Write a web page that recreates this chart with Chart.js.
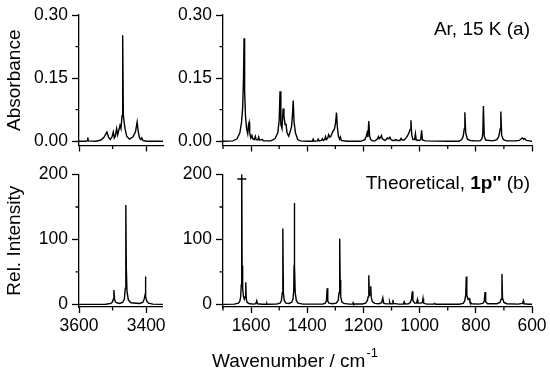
<!DOCTYPE html>
<html>
<head>
<meta charset="utf-8">
<script src="https://cdn.jsdelivr.net/npm/chart.js@4.4.1/dist/chart.umd.min.js"></script>
<style>
body { margin: 0; background: #fff; }
#wrap { position: relative; width: 550px; height: 376px; }
canvas { position: absolute; }
</style>
</head>
<body>
<div id="wrap">
  <canvas id="expHigh" width="170" height="160" style="left:0;top:0"></canvas>
  <canvas id="expLow" width="380" height="160" style="left:170px;top:0"></canvas>
  <canvas id="theoHigh" width="170" height="216" style="left:0;top:160px"></canvas>
  <canvas id="theoLow" width="380" height="216" style="left:170px;top:160px"></canvas>
</div>
<script>
// experimental, Ar matrix 15 K, 3600-3350 cm-1
const expHighWn = [3600, 3580, 3576, 3574, 3572, 3550, 3535, 3525, 3517, 3512,
  3507, 3502, 3498, 3495, 3492, 3488, 3485, 3482, 3478, 3475,
  3472, 3470, 3468, 3466, 3463, 3458, 3450, 3440, 3432, 3427,
  3424, 3420, 3416, 3413, 3410, 3400, 3350];
const expHighAbs = [0, 0, 0.001, 0.009, 0.001, 0, 0.003, 0.010, 0.022, 0.010,
  0.004, 0.010, 0.022, 0.008, 0.012, 0.030, 0.015, 0.025, 0.038, 0.030,
  0.060, 0.252, 0.060, 0.048, 0.030, 0.012, 0.005, 0.010, 0.022, 0.046,
  0.025, 0.008, 0.004, 0.008, 0.002, 0, 0];

// experimental, 1700-600 cm-1
const expLowWn = [1700, 1665, 1650, 1640, 1634, 1630, 1627, 1625, 1623, 1620,
  1616, 1612, 1609, 1607, 1605, 1601, 1597, 1594, 1589, 1585,
  1582, 1576, 1573, 1570, 1560, 1556, 1530, 1515, 1505, 1500,
  1497, 1494, 1490, 1486, 1483, 1479, 1476, 1472, 1466, 1460,
  1456, 1453, 1450, 1447, 1442, 1438, 1434, 1425, 1400, 1382,
  1379, 1376, 1364, 1361, 1358, 1350, 1346, 1343, 1338, 1335,
  1332, 1327, 1324, 1320, 1316, 1310, 1303, 1299, 1296, 1293,
  1289, 1285, 1282, 1279, 1260, 1210, 1195, 1190, 1187, 1184,
  1181, 1178, 1174, 1168, 1158, 1150, 1147, 1144, 1140, 1136,
  1133, 1128, 1124, 1120, 1114, 1110, 1106, 1102, 1096, 1090,
  1085, 1080, 1070, 1066, 1062, 1055, 1048, 1044, 1038, 1034,
  1031, 1028, 1024, 1018, 1015, 1012, 1000, 996, 993, 990,
  980, 900, 860, 850, 845, 841, 839, 836, 830, 820,
  800, 785, 778, 775, 773, 770, 765, 740, 725, 718,
  713, 711, 708, 702, 690, 660, 645, 638, 634, 630,
  626, 620, 610, 600];
const expLowAbs = [0, 0.001, 0.006, 0.020, 0.045, 0.080, 0.150, 0.245, 0.120, 0.060,
  0.030, 0.018, 0.040, 0.045, 0.020, 0.008, 0.014, 0.006, 0.004, 0.012,
  0.004, 0.003, 0.010, 0.003, 0.004, 0.001, 0.001, 0.006, 0.020, 0.050,
  0.119, 0.040, 0.030, 0.078, 0.060, 0.040, 0.042, 0.020, 0.012, 0.025,
  0.035, 0.060, 0.097, 0.045, 0.020, 0.012, 0.004, 0.001, 0, 0,
  0.005, 0, 0.001, 0.005, 0.001, 0.002, 0.006, 0.002, 0.004, 0.011,
  0.004, 0.008, 0.016, 0.010, 0.012, 0.022, 0.030, 0.045, 0.068, 0.035,
  0.012, 0.005, 0.010, 0.002, 0, 0, 0.004, 0.012, 0.020, 0.010,
  0.048, 0.012, 0.004, 0.001, 0.001, 0.006, 0.011, 0.006, 0.009, 0.014,
  0.006, 0.004, 0.002, 0.004, 0.008, 0.006, 0.010, 0.004, 0.002, 0.002,
  0.004, 0.002, 0.002, 0.007, 0.003, 0.003, 0.008, 0.012, 0.020, 0.028,
  0.050, 0.015, 0.004, 0.004, 0.018, 0.003, 0.002, 0.005, 0.026, 0.003,
  0.001, 0, 0, 0.004, 0.012, 0.030, 0.069, 0.020, 0.005, 0.002,
  0.001, 0.001, 0.006, 0.020, 0.084, 0.012, 0.003, 0.001, 0.004, 0.012,
  0.030, 0.071, 0.014, 0.004, 0.001, 0.001, 0.002, 0.006, 0.008, 0.005,
  0.007, 0.002, 0.001, 0];

// theoretical 1p'', 3600-3350 cm-1
const theoHighWn = [3600, 3520, 3505, 3500, 3498, 3496, 3494, 3490, 3480, 3470,
  3465, 3462, 3461, 3460, 3459, 3457, 3453, 3445, 3420, 3410,
  3406, 3403, 3402, 3401, 3398, 3393, 3380, 3350];
const theoHighInt = [0, 0.3, 1.5, 4, 8, 22, 7, 3, 1.5, 3,
  8, 25, 60, 153, 55, 20, 7, 2.5, 1.5, 3,
  8, 15, 43, 12, 5, 2, 0.5, 0];

// theoretical 1p'', 1700-600 cm-1
const theoLowWn = [1700, 1660, 1645, 1640, 1637, 1635, 1634, 1633, 1632, 1630,
  1627, 1624, 1621, 1619, 1617, 1614, 1605, 1590, 1583, 1580,
  1577, 1560, 1545, 1544, 1543, 1510, 1497, 1492, 1489, 1487,
  1485, 1482, 1476, 1466, 1456, 1451, 1448, 1447, 1446, 1445,
  1443, 1439, 1433, 1415, 1345, 1336, 1332, 1329, 1327, 1323,
  1310, 1297, 1290, 1287, 1285, 1284, 1283, 1281, 1277, 1270,
  1250, 1239, 1237, 1235, 1205, 1192, 1186, 1183, 1181, 1179,
  1176, 1174, 1172, 1168, 1160, 1145, 1135, 1131, 1128, 1120,
  1109, 1107, 1105, 1097, 1095, 1093, 1075, 1058, 1055, 1052,
  1040, 1033, 1029, 1026, 1024, 1018, 1011, 1008, 1006, 996,
  990, 988, 986, 975, 950, 946, 943, 860, 845, 840,
  836, 834, 832, 828, 824, 821, 815, 790, 775, 770,
  767, 765, 758, 725, 714, 710, 707, 705, 700, 690,
  650, 634, 631, 629, 610, 600];
const theoLowInt = [0, 0.5, 2, 5, 12, 30, 60, 240, 60, 25,
  12, 8, 12, 34, 8, 3, 1, 0.5, 1, 5.5,
  1, 0.2, 0.2, 1.2, 0.2, 0.5, 2, 6, 18, 117,
  18, 6, 2, 1.5, 3, 8, 22, 60, 156, 60,
  18, 6, 2, 0.5, 0.5, 2, 5, 25, 5, 2,
  1, 2, 6, 18, 40, 101, 38, 12, 4, 1.5,
  0.5, 0.6, 2.5, 0.6, 0.6, 2, 6, 12, 45, 14,
  15, 28, 10, 4, 1.5, 1, 2.5, 10, 2, 0.8,
  1, 4, 1, 1, 7, 1.5, 0.5, 0.6, 4, 0.6,
  1, 3, 8, 20, 6, 2, 2, 7.5, 2, 2,
  3, 9, 2, 0.5, 0.4, 1.5, 0.3, 0.3, 1.5, 5,
  14, 43, 14, 8, 9, 4, 1, 0.5, 1.5, 5,
  19, 4, 1, 1, 3, 8, 47, 10, 3, 1,
  0.4, 1.5, 5.6, 1, 0.3, 0.3];

// off-scale mark on the 1633 band
const breakMarkWn = [1633];
const breakMarkInt = [193];

const highMajor = [3600, 3400];
const highMinor = [3500];
const lowMajor = [1600, 1400, 1200, 1000, 800, 600];
const lowMinor = [1700, 1500, 1300, 1100, 900, 700];
const absMajor = [0, 0.15, 0.30];
const absLabels = ['0.00', '0.15', '0.30'];
const absMinor = [0.075, 0.225];
const intMajor = [0, 100, 200];
const intLabels = ['0', '100', '200'];
const intMinor = [50, 150];

const FONT = "'Liberation Sans', Arial, sans-serif";
Chart.defaults.font.family = FONT;
Chart.defaults.font.size = 17.5;
Chart.defaults.color = '#000';

function spectrum(wn, vals) {
    return {
        data: wn.map((x, i) => ({x: x, y: vals[i]})),
        borderColor: '#000',
        borderWidth: 1.4,
        pointRadius: 0,
        tension: 0,
        fill: false
    };
}

function minorTicks(xMinor, yMinor) {
    return {
        id: 'minorTicks',
        afterDraw(chart) {
            const ctx = chart.ctx, xs = chart.scales.x, ys = chart.scales.y;
            ctx.save();
            ctx.strokeStyle = '#000';
            ctx.lineWidth = 1.3;
            ctx.beginPath();
            xMinor.forEach(v => {
                const p = xs.getPixelForValue(v);
                ctx.moveTo(p, xs.top);
                ctx.lineTo(p, xs.top + 3.5);
            });
            yMinor.forEach(v => {
                const p = ys.getPixelForValue(v);
                ctx.moveTo(ys.right, p);
                ctx.lineTo(ys.right - 3.5, p);
            });
            ctx.stroke();
            ctx.restore();
        }
    };
}

// right aligned text made of normal / bold pieces
function cornerText(parts, rightX, baseY) {
    return {
        id: 'cornerText',
        afterDraw(chart) {
            const ctx = chart.ctx;
            ctx.save();
            ctx.fillStyle = '#000';
            ctx.textBaseline = 'alphabetic';
            let w = 0;
            parts.forEach(p => { ctx.font = (p.bold ? 'bold ' : '') + '19px ' + FONT; w += ctx.measureText(p.text).width; });
            let x = rightX - w;
            parts.forEach(p => {
                ctx.font = (p.bold ? 'bold ' : '') + '19px ' + FONT;
                ctx.fillText(p.text, x, baseY);
                x += ctx.measureText(p.text).width;
            });
            ctx.restore();
        }
    };
}

const xTitle = {
    id: 'xTitle',
    afterDraw(chart) {
        const ctx = chart.ctx;
        ctx.save();
        ctx.fillStyle = '#000';
        ctx.font = '19px ' + FONT;
        const main = 'Wavenumber / cm';
        ctx.fillText(main, 42, 207);
        const w = ctx.measureText(main).width;
        ctx.font = '13px ' + FONT;
        ctx.fillText('-1', 42 + w + 1, 197);
        ctx.restore();
    }
};

function drawPanel(canvas, datasets, p) {
    const ctx = document.getElementById(canvas);
    new Chart(ctx, {
        type: 'line',
        data: {datasets: datasets},
        options: {
            responsive: false,
            animation: false,
            layout: {padding: p.padding},
            plugins: {legend: {display: false}, tooltip: {enabled: false}},
            scales: {
                x: {
                    type: 'linear', reverse: true, min: p.xMin, max: p.xMax,
                    afterBuildTicks: s => { s.ticks = p.xMajor.map(v => ({value: v})); },
                    afterFit: s => { s.height = p.xHeight; },
                    grid: {drawOnChartArea: false, tickLength: 6, tickWidth: 1.3, tickColor: '#000'},
                    border: {color: '#000', width: 1.3},
                    ticks: {display: p.xLabels, maxRotation: 0, autoSkip: false, padding: 3, callback: v => String(v)}
                },
                y: {
                    type: 'linear', min: p.yMin, max: p.yMax,
                    afterBuildTicks: s => { s.ticks = p.yMajor.map(v => ({value: v})); },
                    afterFit: s => { s.width = p.yWidth; },
                    grid: {drawOnChartArea: false, tickLength: 7, tickWidth: 1.3, tickColor: '#000'},
                    border: {color: '#000', width: 1.3},
                    ticks: {padding: 4, callback: (v, i) => p.yLabels[i]},
                    title: {display: !!p.yTitle, text: p.yTitle, font: {size: 19}, padding: {top: 3, bottom: 0}}
                }
            }
        },
        plugins: [minorTicks(p.xMinor, p.yMinor)].concat(p.extra || [])
    });
}

drawPanel('expHigh', [spectrum(expHighWn, expHighAbs)], {
    padding: {top: 15, right: 7, bottom: 0, left: 0},
    xMin: 3350, xMax: 3600, xMajor: highMajor, xMinor: highMinor, xLabels: false, xHeight: 10,
    yMin: -0.01, yMax: 0.30, yMajor: absMajor, yMinor: absMinor, yLabels: absLabels, yWidth: 79,
    yTitle: 'Absorbance'
});

drawPanel('expLow', [spectrum(expLowWn, expLowAbs)], {
    padding: {top: 15, right: 18, bottom: 0, left: 0},
    xMin: 600, xMax: 1700, xMajor: lowMajor, xMinor: lowMinor, xLabels: false, xHeight: 10,
    yMin: -0.01, yMax: 0.30, yMajor: absMajor, yMinor: absMinor, yLabels: absLabels, yWidth: 53,
    extra: [cornerText([{text: 'Ar, 15 K (a)'}], 360, 35)]
});

drawPanel('theoHigh', [spectrum(theoHighWn, theoHighInt)], {
    padding: {top: 13, right: 7, bottom: 0, left: 0},
    xMin: 3350, xMax: 3600, xMajor: highMajor, xMinor: highMinor, xLabels: true, xHeight: 69,
    yMin: -4, yMax: 200, yMajor: intMajor, yMinor: intMinor, yLabels: intLabels, yWidth: 79,
    yTitle: 'Rel. Intensity'
});

const breakMark = {
    data: breakMarkWn.map((x, i) => ({x: x, y: breakMarkInt[i]})),
    showLine: false,
    pointStyle: 'line',
    pointRadius: 4.5,
    borderColor: '#000',
    borderWidth: 1.4
};

drawPanel('theoLow', [spectrum(theoLowWn, theoLowInt), breakMark], {
    padding: {top: 13, right: 18, bottom: 0, left: 0},
    xMin: 600, xMax: 1700, xMajor: lowMajor, xMinor: lowMinor, xLabels: true, xHeight: 69,
    yMin: -4, yMax: 200, yMajor: intMajor, yMinor: intMinor, yLabels: intLabels, yWidth: 53,
    extra: [cornerText([{text: 'Theoretical, '}, {text: "1p''", bold: true}, {text: ' (b)'}], 360, 29), xTitle]
});
</script>
</body>
</html>
